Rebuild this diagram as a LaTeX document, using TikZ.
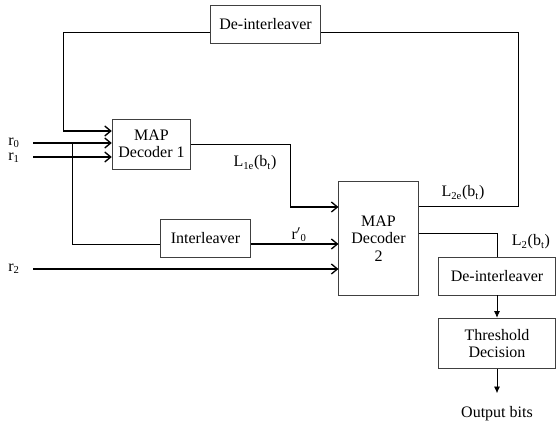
\documentclass[tikz,border=0pt]{standalone}
\usepackage{fontspec}
\setmainfont{Liberation Serif}
\usepackage{tikz}
\usetikzlibrary{arrows.meta,positioning}
\tikzstyle{block}=[rectangle,draw=black!75,line width=0.6pt,align=center,inner sep=1pt,font=\fontsize{12}{13}\selectfont]
\tikzstyle{lbl}=[inner sep=1pt,font=\fontsize{12}{13}\selectfont]
\tikzstyle{wire}=[line width=0.6pt]
\tikzstyle{feed}=[line width=1pt,-{Straight Barb[length=4.5pt,width=7.5pt]}]
\tikzstyle{down}=[line width=0.6pt,-{Latex[length=5pt,width=4.5pt]}]

\begin{document}
\begin{tikzpicture}[x=0.75pt,y=-0.75pt]
\useasboundingbox (0,0) rectangle (557,429);

% blocks
\node (deint1) [block,minimum width=82pt,minimum height=28pt] at (265.5,24.5) {De-interleaver};
\node (map1) [block,minimum width=59pt,minimum height=37.5pt] at (151.5,144) {MAP\\Decoder 1};
\node (inter) [block,minimum width=67.5pt,minimum height=28.5pt] at (205.5,238) {Interleaver};
\node (map2) [block,minimum width=59.5pt,minimum height=85pt] at (378.5,238.5) {MAP\\Decoder\\2};
\node (deint2) [block,minimum width=88pt,minimum height=28.5pt] at (497,276) {De-interleaver};
\node (thresh) [block,minimum width=88pt,minimum height=38pt] at (497,343.5) {Threshold\\Decision};
\node (out) [lbl,below=27pt of thresh] {Output bits};

% inputs
\node (r0) [lbl] at (14,143) {r\textsubscript{0}};
\node (r1) [lbl] at (14,158) {r\textsubscript{1}};
\node (r2) [lbl] at (14,269) {r\textsubscript{2}};
\coordinate (r0s) at (33,143);
\coordinate (r1s) at (33,157);
\coordinate (r2s) at (33,269);

% bends
\coordinate (ctop) at (518,32);
\coordinate (cfb) at (63,131);
\coordinate (br) at (72,143);
\coordinate (cin) at (72,244);
\coordinate (c1e) at (290,207);
\coordinate (c2e) at (518,206);
\coordinate (c2) at (497,233);

% connections
\draw [feed] (r0s) -- (map1.west |- r0s);
\draw [feed] (r1s) -- (map1.west |- r1s);
\draw [feed] (r2s) -- (map2.west |- r2s);
\draw [wire] (deint1.west |- ctop) -| (cfb);
\draw [feed] (cfb) -- (map1.west |- cfb);
\draw [wire] (br) |- (inter.west |- cin);
\draw [feed] (inter.east |- cin) -- node [lbl,above,pos=0.55] {r$'$\textsubscript{0}} (map2.west |- cin);
\draw [wire] (map1.east) -| (c1e);
\draw [feed] (c1e) -- (map2.west |- c1e);
\draw [wire] (map2.east |- c2e) -- (c2e) -- (ctop) -- (deint1.east |- ctop);
\draw [wire] (map2.east |- c2) -| (deint2.north);
\draw [down] (deint2) -- (thresh);
\draw [down,shorten >=9pt] (thresh) -- (out);

% labels
\node (l1e) [lbl] at (255,163) {L\textsubscript{1e}(b\textsubscript{t})};
\node (l2e) [lbl] at (463,193) {L\textsubscript{2e}(b\textsubscript{t})};
\node (l2) [lbl] at (531,242) {L\textsubscript{2}(b\textsubscript{t})};

\end{tikzpicture}
\end{document}
